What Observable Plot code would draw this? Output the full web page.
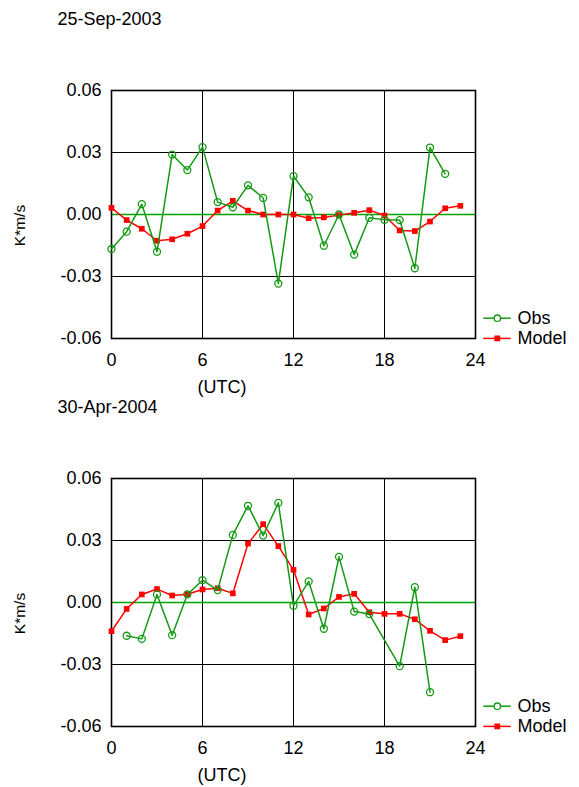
<!DOCTYPE html>
<html>
<head>
<meta charset="utf-8">
<script src="https://cdn.jsdelivr.net/npm/d3@7"></script>
<script src="https://cdn.jsdelivr.net/npm/@observablehq/plot@0.6"></script>
<style>
  html, body { margin: 0; padding: 0; background: #fff; }
  #root { position: relative; width: 579px; height: 787px; font-family: "Liberation Sans", Arial, sans-serif; }
  .panel { position: relative; width: 579px; }
  .panel svg.plot { display: block; overflow: visible; }
  .legend { position: absolute; left: 0; top: 0; pointer-events: none; }
</style>
</head>
<body>
<div id="root"></div>
<script>
const hours = d3.range(0, 24);
const xTicks = [0, 6, 12, 18, 24];
const yTicks = [-0.06, -0.03, 0.00, 0.03, 0.06];
const seriesNames = ["Obs", "Model"];
const panelTitles = ["25-Sep-2003", "30-Apr-2004"];
const xLabel = "(UTC)";
const yLabel = "K*m/s";

const obs1 = [-0.0167, -0.0083, 0.0050, -0.0180, 0.0290, 0.0215, 0.0326, 0.0060, 0.0035, 0.0141, 0.0080, -0.0334,
              0.0186, 0.0083, -0.0151, 0.0000, -0.0194, -0.0016, -0.0026, -0.0027, -0.0260, 0.0324, 0.0197, null];
const model1 = [0.0032, -0.0027, -0.0069, -0.0127, -0.0120, -0.0093, -0.0056, 0.0019, 0.0066, 0.0019, 0.0000, 0.0000,
                0.0000, -0.0018, -0.0014, -0.0003, 0.0008, 0.0021, -0.0005, -0.0077, -0.0080, -0.0034, 0.0030, 0.0042];
const obs2 = [null, -0.0161, -0.0176, 0.0039, -0.0158, 0.0039, 0.0108, 0.0060, 0.0327, 0.0468, 0.0324, 0.0482,
              -0.0016, 0.0102, -0.0127, 0.0221, -0.0044, -0.0056, null, -0.0308, 0.0074, -0.0434, null, null];
const model2 = [-0.0139, -0.0031, 0.0039, 0.0065, 0.0034, 0.0040, 0.0063, 0.0069, 0.0044, 0.0285, 0.0379, 0.0273,
                0.0158, -0.0058, -0.0029, 0.0027, 0.0042, -0.0047, -0.0055, -0.0055, -0.0081, -0.0137, -0.0182, -0.0163];

const GREEN = "#139a13";
const ZERO_GREEN = "#00a400";
const RED = "#ff0000";
const FS = 18;
const FONT = '"Liberation Sans", Arial, sans-serif';

function toRows(vals) {
  return hours.map((h, i) => ({h, v: vals[i]})).filter(d => d.v != null);
}

function makePanel(title, obs, model, height, marginTop, marginBottom) {
  const obsRows = toRows(obs);
  const modelRows = toRows(model);
  const chart = Plot.plot({
    width: 579,
    height,
    marginLeft: 111,
    marginRight: 104,
    marginTop,
    marginBottom,
    style: {fontFamily: FONT, fontSize: FS + "px", background: "white", color: "black", overflow: "visible"},
    x: {domain: [0, 24]},
    y: {domain: [-0.06, 0.06]},
    marks: [
      Plot.ruleX(xTicks.filter(t => t > 0 && t < 24), {stroke: "black", strokeWidth: 1}),
      Plot.ruleY(yTicks.filter(t => t !== 0 && Math.abs(t) < 0.06), {stroke: "black", strokeWidth: 1}),
      Plot.ruleY([0], {stroke: ZERO_GREEN, strokeWidth: 1.6}),
      Plot.frame({stroke: "black", strokeWidth: 1.6}),
      Plot.axisX({ticks: xTicks, tickSize: 0, tickPadding: 15, tickFormat: d => String(d), fontSize: FS, label: null}),
      Plot.axisY({ticks: yTicks, tickSize: 0, tickPadding: 10, tickFormat: d => d.toFixed(2), fontSize: FS, label: null}),
      Plot.lineY(modelRows, {x: "h", y: "v", stroke: RED, strokeWidth: 1.5}),
      Plot.dot(modelRows, {x: "h", y: "v", symbol: "square", r: 3.2, fill: RED, stroke: "none"}),
      Plot.lineY(obsRows, {x: "h", y: "v", stroke: GREEN, strokeWidth: 1.5}),
      Plot.dot(obsRows, {x: "h", y: "v", symbol: "circle", r: 3.5, fill: "white", fillOpacity: 0, stroke: GREEN, strokeWidth: 1.3}),
      Plot.text([title], {frameAnchor: "top-left", textAnchor: "start", lineAnchor: "middle", dx: -54, dy: -71.3, fontSize: FS, fill: "black"}),
      Plot.text([xLabel], {frameAnchor: "bottom-left", textAnchor: "middle", lineAnchor: "middle", dx: 110.5, dy: 49.2, fontSize: FS, fill: "black"}),
      Plot.text([yLabel], {frameAnchor: "left", textAnchor: "middle", lineAnchor: "middle", rotate: -90, dx: -91.8, dy: 11, fontSize: 15.5, fill: "black"})
    ]
  });
  chart.classList.add("plot");
  const wrap = document.createElement("div");
  wrap.className = "panel";
  wrap.style.height = height + "px";
  wrap.appendChild(chart);

  // legend, placed relative to the bottom of the plot frame
  const bottom = height - marginBottom;
  const ns = "http://www.w3.org/2000/svg";
  const leg = document.createElementNS(ns, "svg");
  leg.setAttribute("class", "legend");
  leg.setAttribute("width", 579);
  leg.setAttribute("height", height);
  const items = [
    {name: seriesNames[0], color: GREEN, y: bottom - 19.8, kind: "open"},
    {name: seriesNames[1], color: RED, y: bottom + 0.4, kind: "filled"}
  ];
  for (const it of items) {
    const ln = document.createElementNS(ns, "line");
    ln.setAttribute("x1", 483.3); ln.setAttribute("x2", 510.7);
    ln.setAttribute("y1", it.y); ln.setAttribute("y2", it.y);
    ln.setAttribute("stroke", it.color); ln.setAttribute("stroke-width", 1.5);
    leg.appendChild(ln);
    if (it.kind === "open") {
      const c = document.createElementNS(ns, "circle");
      c.setAttribute("cx", 497.3); c.setAttribute("cy", it.y); c.setAttribute("r", 3.2);
      c.setAttribute("fill", "white"); c.setAttribute("stroke", it.color); c.setAttribute("stroke-width", 1.3);
      leg.appendChild(c);
    } else {
      const r = document.createElementNS(ns, "rect");
      r.setAttribute("x", 497.3 - 2.9); r.setAttribute("y", it.y - 2.9);
      r.setAttribute("width", 5.8); r.setAttribute("height", 5.8);
      r.setAttribute("fill", it.color);
      leg.appendChild(r);
    }
    const t = document.createElementNS(ns, "text");
    t.setAttribute("x", 517.5); t.setAttribute("y", it.y + 5.6);
    t.setAttribute("font-size", FS);
    t.setAttribute("font-family", FONT);
    t.setAttribute("fill", "black");
    t.textContent = it.name;
    leg.appendChild(t);
  }
  wrap.appendChild(leg);
  return wrap;
}

const root = document.getElementById("root");
root.appendChild(makePanel(panelTitles[0], obs1, model1, 398, 90, 60));
root.appendChild(makePanel(panelTitles[1], obs2, model2, 389, 80, 61));
</script>
</body>
</html>
